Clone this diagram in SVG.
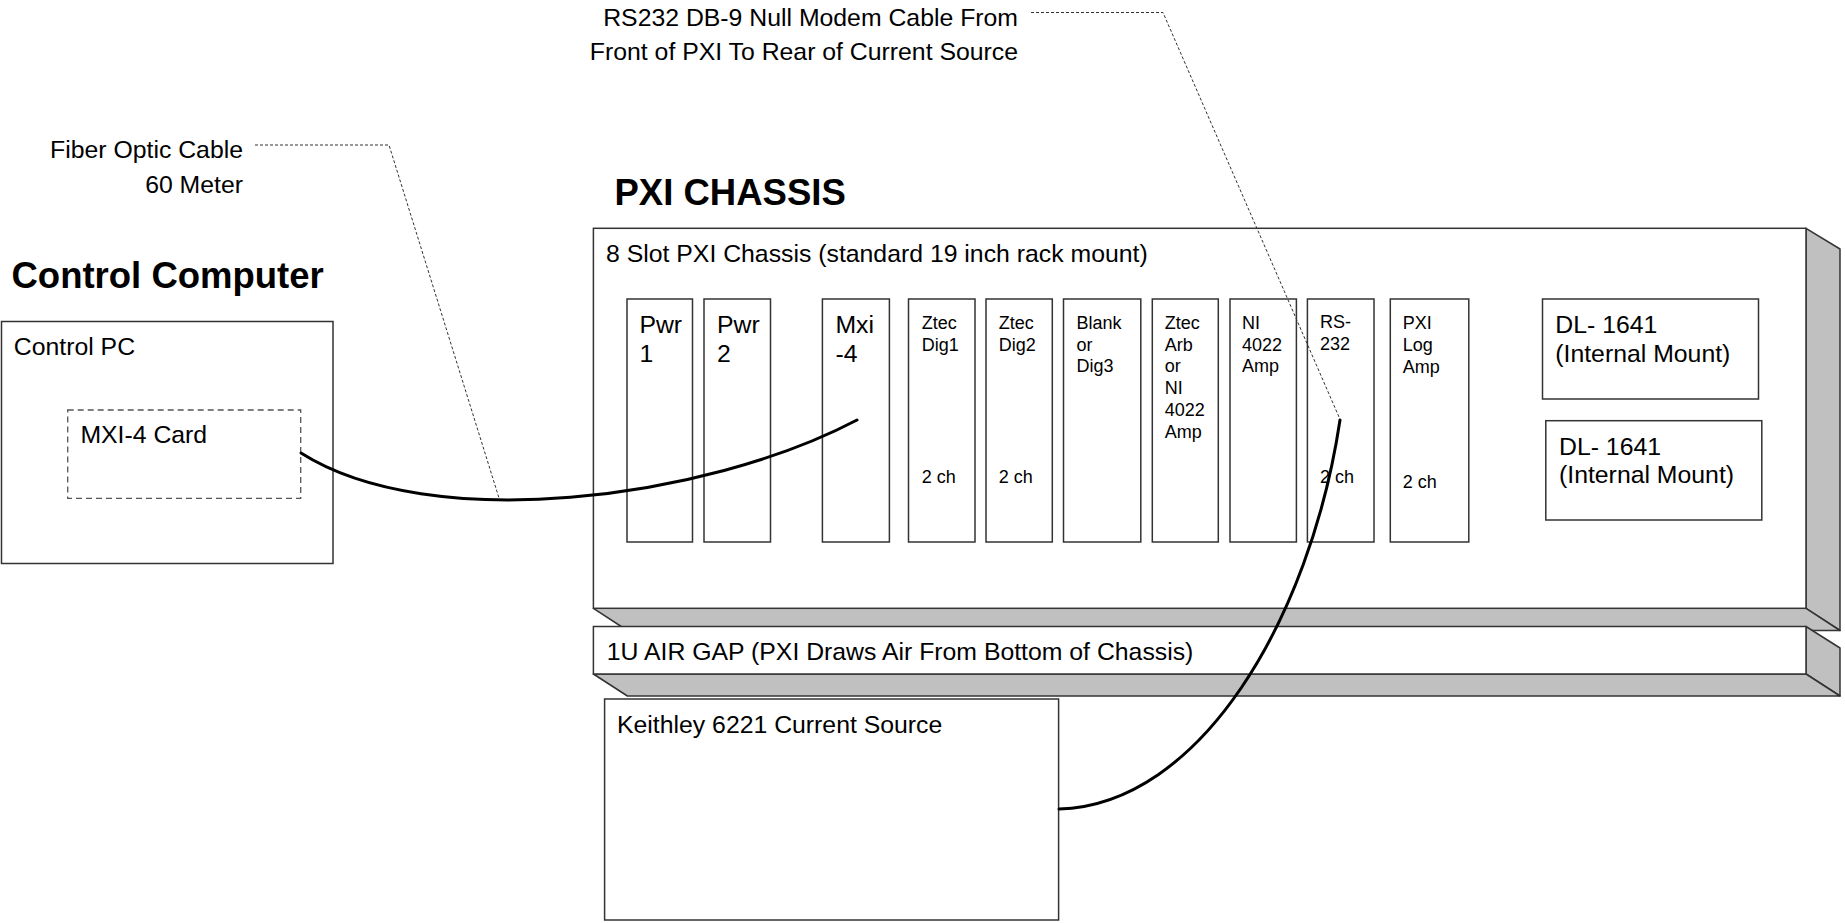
<svg xmlns="http://www.w3.org/2000/svg" width="1845" height="923" viewBox="0 0 1845 923">
<style>
text{font-family:"Liberation Sans",Arial,sans-serif;fill:#000}
.t{font-size:24.8px}
.s{font-size:18px}
.h{font-size:36.5px;font-weight:bold}
.box{fill:#fff;stroke:#333;stroke-width:1.5}
.face{fill:#c0c0c0;stroke:#333;stroke-width:1.5;stroke-linejoin:round}
.card{fill:#fff;stroke:#555;stroke-width:1.3;stroke-dasharray:6,4}
.lead{fill:none;stroke:#333;stroke-width:1;stroke-dasharray:3,2}
.cable{fill:none;stroke:#000;stroke-width:3;stroke-linecap:round}
</style>
<rect width="1845" height="923" fill="#fff"/>

<g id="label-fiber">
<text class="t" x="243" y="157.5" text-anchor="end">Fiber Optic Cable</text>
<text class="t" x="243" y="193" text-anchor="end">60 Meter</text>
</g>
<g id="label-rs232">
<text class="t" x="1018" y="26" text-anchor="end">RS232 DB-9 Null Modem Cable From</text>
<text class="t" x="1018" y="60" text-anchor="end">Front of PXI To Rear of Current Source</text>
</g>

<g id="control-computer">
<text class="h" x="11.5" y="288">Control Computer</text>
<rect class="box" x="1.5" y="321.5" width="331.5" height="242"/>
<text class="t" x="13.8" y="355">Control PC</text>
</g>
<g id="mxi4-card">
<rect class="card" x="67.7" y="410" width="233" height="88.3"/>
<text class="t" x="80.4" y="443">MXI-4 Card</text>
</g>

<g id="pxi-chassis">
<text class="h" x="614.5" y="205">PXI CHASSIS</text>
<polygon class="face" points="1806,228.3 1840,249 1840,630.5 1806,608.3"/>
<polygon class="face" points="593.4,608.3 1806,608.3 1840,630.5 627.4,630.5"/>
<rect class="box" x="593.4" y="228.3" width="1212.6" height="380"/>
<text class="t" x="606" y="261.7">8 Slot PXI Chassis (standard 19 inch rack mount)</text>
</g>

<g id="slot-pwr1">
<rect class="box" x="627" y="299" width="65.5" height="243"/>
<text class="t" x="639.4" y="333">Pwr</text>
<text class="t" x="639.4" y="361.7">1</text>
</g>
<g id="slot-pwr2">
<rect class="box" x="704" y="299" width="66.5" height="243"/>
<text class="t" x="717" y="333">Pwr</text>
<text class="t" x="717" y="361.7">2</text>
</g>
<g id="slot-mxi4">
<rect class="box" x="822.4" y="299" width="67" height="243"/>
<text class="t" x="835.4" y="333">Mxi</text>
<text class="t" x="835.4" y="361.7">-4</text>
</g>
<g id="slot-dig1">
<rect class="box" x="908.5" y="299" width="66.5" height="243"/>
<text class="s" x="921.7" y="329.3">Ztec</text>
<text class="s" x="921.7" y="350.5">Dig1</text>
<text class="s" x="921.7" y="482.7">2 ch</text>
</g>
<g id="slot-dig2">
<rect class="box" x="986" y="299" width="66.3" height="243"/>
<text class="s" x="998.8" y="329.3">Ztec</text>
<text class="s" x="998.8" y="350.5">Dig2</text>
<text class="s" x="998.8" y="482.7">2 ch</text>
</g>
<g id="slot-blank">
<rect class="box" x="1063.5" y="299" width="77.3" height="243"/>
<text class="s" x="1076.4" y="329.3">Blank</text>
<text class="s" x="1076.4" y="350.8">or</text>
<text class="s" x="1076.4" y="372.4">Dig3</text>
</g>
<g id="slot-arb">
<rect class="box" x="1152.3" y="299" width="66" height="243"/>
<text class="s" x="1164.8" y="329.3">Ztec</text>
<text class="s" x="1164.8" y="350.8">Arb</text>
<text class="s" x="1164.8" y="372.4">or</text>
<text class="s" x="1164.8" y="394">NI</text>
<text class="s" x="1164.8" y="415.8">4022</text>
<text class="s" x="1164.8" y="437.5">Amp</text>
</g>
<g id="slot-ni4022">
<rect class="box" x="1230" y="299" width="66.4" height="243"/>
<text class="s" x="1242" y="329.3">NI</text>
<text class="s" x="1242" y="350.8">4022</text>
<text class="s" x="1242" y="372.4">Amp</text>
</g>
<g id="slot-rs232">
<rect class="box" x="1307.4" y="299" width="66.6" height="243"/>
<text class="s" x="1320" y="328.3">RS-</text>
<text class="s" x="1320" y="350">232</text>
<text class="s" x="1320" y="482.7">2 ch</text>
</g>
<g id="slot-logamp">
<rect class="box" x="1390.3" y="299" width="78.5" height="243"/>
<text class="s" x="1402.7" y="329.3">PXI</text>
<text class="s" x="1402.7" y="351">Log</text>
<text class="s" x="1402.7" y="372.7">Amp</text>
<text class="s" x="1402.7" y="488.3">2 ch</text>
</g>
<g id="dl1641-a">
<rect class="box" x="1542.5" y="299" width="216" height="100"/>
<text class="t" x="1555.3" y="333">DL- 1641</text>
<text class="t" x="1555.3" y="361.7">(Internal Mount)</text>
</g>
<g id="dl1641-b">
<rect class="box" x="1545.8" y="420.7" width="216" height="99.3"/>
<text class="t" x="1559" y="455">DL- 1641</text>
<text class="t" x="1559" y="483.3">(Internal Mount)</text>
</g>

<g id="air-gap">
<polygon class="face" points="1806,626.5 1840,648 1840,696 1806,674"/>
<polygon class="face" points="593.4,674 1806,674 1840,696 627.4,696"/>
<rect class="box" x="593.4" y="626.5" width="1212.6" height="47.5"/>
<text class="t" x="606.8" y="660">1U AIR GAP (PXI Draws Air From Bottom of Chassis)</text>
</g>

<g id="keithley">
<rect class="box" x="604.6" y="699" width="454" height="221"/>
<text class="t" x="617" y="733.3">Keithley 6221 Current Source</text>
</g>

<g id="connectors">
<path class="cable" d="M301,453 C430,535 705,500 857,420"/>
<path class="cable" d="M1059,809 C1200,805 1310,620 1340,420"/>
<polyline class="lead" points="255,145 389,145 499,498"/>
<polyline class="lead" points="1031,12.5 1163,12.5 1339,417"/>
</g>
</svg>
